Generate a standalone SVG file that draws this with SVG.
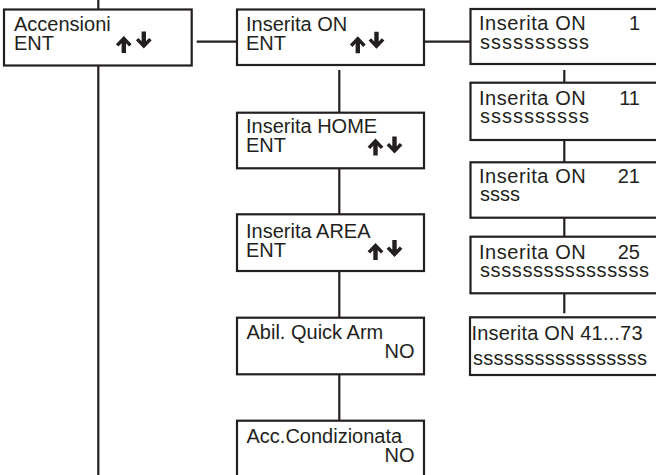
<svg xmlns="http://www.w3.org/2000/svg" width="656" height="475" viewBox="0 0 656 475">
<style>
.box{fill:#fff;stroke:#231f20;stroke-width:2.2}
.ln{stroke:#231f20;stroke-width:2.2;fill:none}
text{font-family:"Liberation Sans",Arial,sans-serif;font-size:20px;fill:#231f20}
.ar{fill:#231f20}
</style>
<defs>
<path id="up" d="M7.5,0 L15.4,8.2 L12.8,10.6 L9.7,7.2 L9.7,17 L5.3,17 L5.3,7.2 L2.2,10.6 L-0.4,8.2 Z"/>
<path id="dn" d="M7.5,17 L15.4,8.8 L12.8,6.4 L9.7,9.8 L9.7,0 L5.3,0 L5.3,9.8 L2.2,6.4 L-0.4,8.8 Z"/>
</defs>
<g id="connectors" class="ln">
<line x1="98.3" y1="0" x2="98.3" y2="9.5"/>
<line x1="98.3" y1="65.5" x2="98.3" y2="475"/>
<line x1="196.7" y1="41.7" x2="237" y2="41.7"/>
<line x1="424" y1="41.7" x2="470.5" y2="41.7"/>
<line x1="339.3" y1="70" x2="339.3" y2="112.7"/>
<line x1="339.3" y1="168.3" x2="339.3" y2="214.3"/>
<line x1="339.3" y1="271" x2="339.3" y2="317.7"/>
<line x1="339.3" y1="374.3" x2="339.3" y2="420.7"/>
<line x1="564.3" y1="70" x2="564.3" y2="82.7"/>
<line x1="564.3" y1="140" x2="564.3" y2="162.3"/>
<line x1="564.3" y1="217.7" x2="564.3" y2="236.7"/>
<line x1="564.3" y1="293.3" x2="564.3" y2="313.3"/>
</g>
<g id="accensioni">
<rect class="box" x="4" y="9.5" width="187.7" height="56"/>
<text><tspan x="14" y="30.7">Accensioni</tspan><tspan x="14" y="50">ENT</tspan></text>
<use href="#up" class="ar" x="116.3" y="36"/>
<use href="#dn" class="ar" x="136.3" y="31.5"/>
</g>
<g id="ins-on">
<rect class="box" x="237" y="9.5" width="187" height="55.5"/>
<text><tspan x="246" y="31">Inserita ON</tspan><tspan x="246" y="50">ENT</tspan></text>
<use href="#up" class="ar" x="350.3" y="36.3"/>
<use href="#dn" class="ar" x="369" y="31.8"/>
</g>
<g id="ins-home">
<rect class="box" x="237" y="112.7" width="187" height="55.6"/>
<text><tspan x="246" y="133.3">Inserita HOME</tspan><tspan x="246" y="151.7">ENT</tspan></text>
<use href="#up" class="ar" x="368" y="138.5"/>
<use href="#dn" class="ar" x="387" y="136.5"/>
</g>
<g id="ins-area">
<rect class="box" x="237" y="214.3" width="187" height="56.7"/>
<text><tspan x="246" y="237.7">Inserita AREA</tspan><tspan x="246" y="256.7">ENT</tspan></text>
<use href="#up" class="ar" x="368" y="243"/>
<use href="#dn" class="ar" x="387" y="240"/>
</g>
<g id="quick-arm">
<rect class="box" x="237" y="317.7" width="187" height="56.6"/>
<text><tspan x="246.5" y="339.3">Abil. Quick Arm</tspan><tspan x="414.5" y="358.3" text-anchor="end">NO</tspan></text>
</g>
<g id="acc-cond">
<rect class="box" x="237" y="420.7" width="187" height="60"/>
<text><tspan x="246.5" y="443.3">Acc.Condizionata</tspan><tspan x="414.5" y="461.7" text-anchor="end">NO</tspan></text>
</g>
<g id="on-1">
<rect class="box" x="470.5" y="9" width="190" height="55"/>
<text><tspan x="479" y="30" textLength="106.7" lengthAdjust="spacing">Inserita ON</tspan><tspan x="640" y="30" text-anchor="end">1</tspan><tspan x="480" y="49.3" textLength="108.9" lengthAdjust="spacing">ssssssssss</tspan></text>
</g>
<g id="on-11">
<rect class="box" x="470.5" y="82.7" width="190" height="57.3"/>
<text><tspan x="479" y="105" textLength="106.7" lengthAdjust="spacing">Inserita ON</tspan><tspan x="640" y="105" text-anchor="end">11</tspan><tspan x="480" y="123.3" textLength="108.9" lengthAdjust="spacing">ssssssssss</tspan></text>
</g>
<g id="on-21">
<rect class="box" x="470.5" y="162.3" width="190" height="55.4"/>
<text><tspan x="479" y="183.3" textLength="106.7" lengthAdjust="spacing">Inserita ON</tspan><tspan x="640" y="183.3" text-anchor="end">21</tspan><tspan x="480" y="200.7">ssss</tspan></text>
</g>
<g id="on-25">
<rect class="box" x="470.5" y="236.7" width="190" height="56.6"/>
<text><tspan x="479" y="259" textLength="106.7" lengthAdjust="spacing">Inserita ON</tspan><tspan x="640" y="259" text-anchor="end">25</tspan><tspan x="480" y="276.7" textLength="169" lengthAdjust="spacing">ssssssssssssssss</tspan></text>
</g>
<g id="on-41-73">
<rect class="box" x="470" y="317.3" width="190" height="57.7"/>
<text><tspan x="471.5" y="340" textLength="171" lengthAdjust="spacing">Inserita ON 41...73</tspan><tspan x="473" y="365" textLength="173.9" lengthAdjust="spacing">sssssssssssssssss</tspan></text>
</g>
</svg>
